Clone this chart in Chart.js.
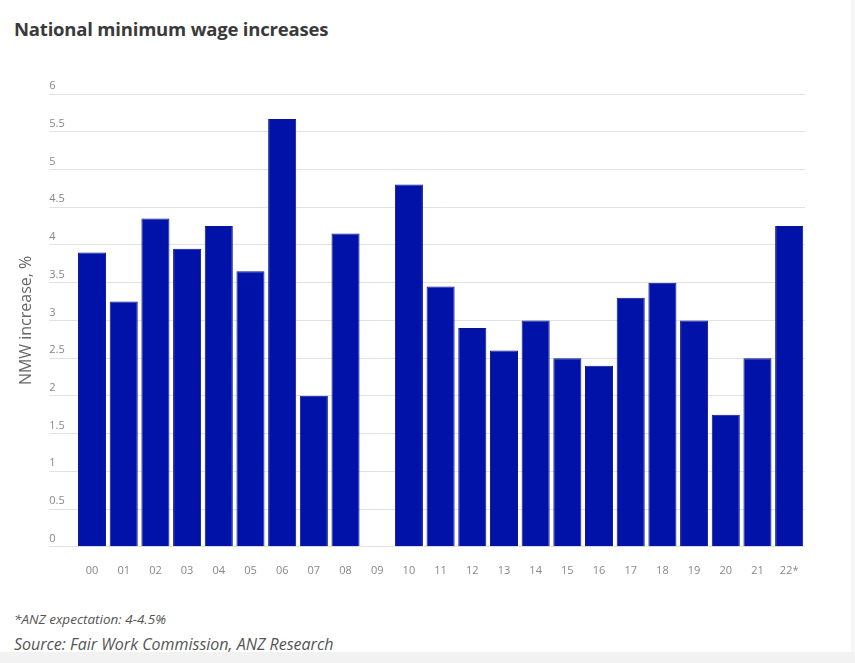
<!DOCTYPE html>
<html>
<head>
<meta charset="utf-8">
<script src="https://cdn.jsdelivr.net/npm/chart.js@4.4.1/dist/chart.umd.min.js"></script>
<style>
  html, body { margin: 0; padding: 0; background: #fff; }
  #page { position: relative; width: 855px; height: 663px; overflow: hidden; font-family: "Open Sans", sans-serif; }
  #title { position: absolute; left: 14px; top: 16px; font-size: 18.5px; font-weight: 700; color: #3a3a3a; letter-spacing: -0.2px; }
  #wrap { position: absolute; left: 0; top: 60px; width: 830px; height: 526px; }
  #note { position: absolute; left: 14px; top: 610px; font-size: 13.5px; font-style: italic; color: #555; }
  #source { position: absolute; left: 14px; top: 633px; font-size: 16px; font-style: italic; color: #555; }
  #band { position: absolute; left: 0; top: 652px; width: 855px; height: 11px; background: #f2f2f2; }
  #edge { position: absolute; left: 851px; top: 0; width: 4px; height: 652px; background: #f6f6f6; }
</style>
</head>
<body>
<div id="page">
  <div id="title">National minimum wage increases</div>
  <div id="wrap"><canvas id="myChart"></canvas></div>
  <div id="note">*ANZ expectation: 4-4.5%</div>
  <div id="source">Source: Fair Work Commission, ANZ Research</div>
  <div id="band"></div>
  <div id="edge"></div>
</div>
<script>
const years = ['00','01','02','03','04','05','06','07','08','09','10','11',
               '12','13','14','15','16','17','18','19','20','21','22*'];
// % increase, 09 had no increase (gap)
const increases = [3.9, 3.25, 4.35, 3.95, 4.25, 3.65, 5.67, 2.0, 4.15, null, 4.8, 3.45,
                   2.9, 2.6, 3.0, 2.5, 2.4, 3.3, 3.5, 3.0, 1.75, 2.5, 4.25];
const Y_MIN = 0;
const Y_MAX = 6;
const Y_STEP = 0.5;

let myChart;

const setup = () => {
  const context = document.getElementById('myChart').getContext('2d');

  myChart = new Chart(context, {
    type: 'bar',
    data: {
      labels: years,
      datasets: [{
        label: 'NMW increase, %',
        data: increases,
        backgroundColor: '#0012a8',
        borderColor: '#0a1490',
        borderWidth: 1,
        barPercentage: 0.885,
        categoryPercentage: 1
      }]
    },
    options: {
      responsive: true,
      maintainAspectRatio: false,
      animation: false,
      layout: { padding: { left: 13, right: 25, top: 34, bottom: 0 } },
      plugins: {
        legend: { display: false },
        tooltip: { enabled: false }
      },
      scales: {
        x: {
          grid: { display: false },
          border: { display: false },
          ticks: {
            color: '#888',
            font: { family: 'Open Sans', size: 11 },
            padding: 9,
            maxRotation: 0,
            autoSkip: false
          }
        },
        y: {
          min: Y_MIN,
          max: Y_MAX,
          border: { display: false },
          grid: { color: '#e2e2e2', tickLength: 27, drawTicks: true },
          ticks: {
            stepSize: Y_STEP,
            mirror: true,
            padding: -27,
            labelOffset: -8,
            color: '#888',
            font: { family: 'Open Sans', size: 11 },
            callback: v => String(v)
          },
          title: {
            display: true,
            text: 'NMW increase, %',
            color: '#666',
            font: { family: 'Open Sans', size: 16 },
            padding: { top: 4, bottom: 67 }
          }
        }
      }
    }
  });
}

window.addEventListener('DOMContentLoaded', setup);
</script>
</body>
</html>
